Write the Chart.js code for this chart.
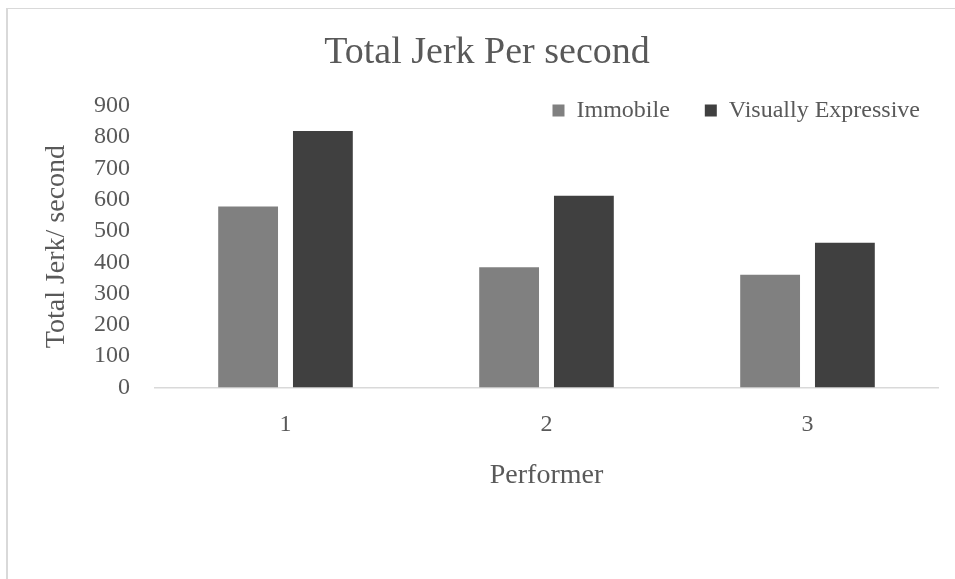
<!DOCTYPE html>
<html>
<head>
<meta charset="utf-8">
<script src="https://cdn.jsdelivr.net/npm/chart.js@4.4.1/dist/chart.umd.min.js"></script>
<style>
  body { margin: 0; overflow: hidden; background: #fff; }
  #wrap { position: relative; width: 955px; height: 579px; }
  #frame { position: absolute; left: 6px; top: 8px; width: 960px; height: 580px;
           border-left: 2px solid #d9d9d9; border-top: 1px solid #d9d9d9; }
  #chart { position: absolute; left: 0; top: 0; }
</style>
</head>
<body>
<div id="wrap">
  <div id="frame"></div>
  <canvas id="chart" width="955" height="579"></canvas>
</div>
<script>
// values
var performers = ["1", "2", "3"];
var immobile = [578, 384, 360];
var visuallyExpressive = [819, 612, 462];

var TEXT = "#595959";
var FONT = "'Liberation Serif', 'Times New Roman', serif";

// the original legend overlaps the top of the plot area, so push it down a bit
var legendNudge = {
  id: "legendNudge",
  afterLayout: function(chart) {
    var lg = chart.legend;
    if (!lg) return;
    lg.top += 27; lg.bottom += 27;
    lg.left += 17; lg.right += 17;
  }
};

var ctx = document.getElementById("chart").getContext("2d");
new Chart(ctx, {
  type: "bar",
  data: {
    labels: performers,
    datasets: [
      {
        label: "Immobile",
        data: immobile,
        backgroundColor: "#808080",
        barPercentage: 0.8,
        categoryPercentage: 0.573
      },
      {
        label: "Visually Expressive",
        data: visuallyExpressive,
        backgroundColor: "#404040",
        barPercentage: 0.8,
        categoryPercentage: 0.573
      }
    ]
  },
  options: {
    responsive: false,
    animation: false,
    layout: { padding: { left: 36, right: 17, top: 0, bottom: 0 } },
    plugins: {
      title: {
        display: true,
        text: "Total Jerk Per second",
        color: TEXT,
        font: { family: FONT, size: 38, weight: "normal", lineHeight: 1.2 },
        padding: { top: 30, bottom: -39 }
      },
      legend: {
        position: "top",
        align: "end",
        labels: {
          color: TEXT,
          font: { family: FONT, size: 24 },
          boxWidth: 12,
          boxHeight: 12,
          padding: 35
        }
      },
      tooltip: { enabled: false }
    },
    scales: {
      x: {
        grid: { display: false, drawTicks: false },
        border: { display: true, color: "#d9d9d9", width: 1.5 },
        ticks: { color: TEXT, font: { family: FONT, size: 24, lineHeight: 1.2 }, padding: 23 },
        title: {
          display: true,
          text: "Performer",
          color: TEXT,
          font: { family: FONT, size: 28, lineHeight: 1.2 },
          padding: { top: 0, bottom: 87 }
        },
        afterFit: function(scale) { scale.height = 191.5; }
      },
      y: {
        min: 0,
        max: 900,
        grid: { display: false, drawTicks: false },
        border: { display: false },
        ticks: { stepSize: 100, autoSkip: false, color: TEXT, font: { family: FONT, size: 24 }, padding: 25 },
        title: {
          display: true,
          text: "Total Jerk/ second",
          color: TEXT,
          font: { family: FONT, size: 28, lineHeight: 1.2 },
          padding: { top: 4, bottom: 0 }
        },
        afterFit: function(scale) { scale.width = 119; }
      }
    }
  },
  plugins: [legendNudge]
});
</script>
</body>
</html>
